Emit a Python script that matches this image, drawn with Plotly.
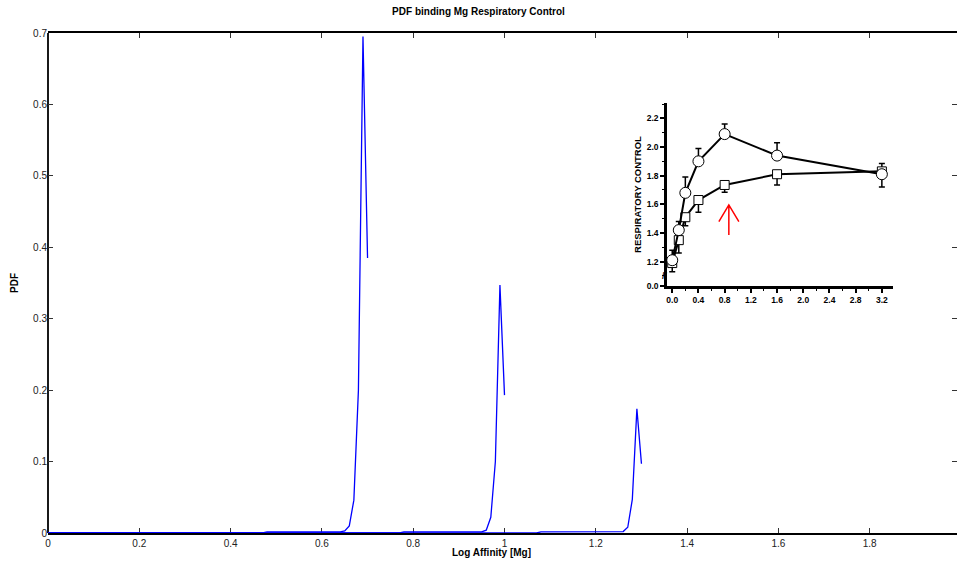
import plotly.graph_objects as go

# ---- main chart data (Log Affinity vs PDF) ----
c1_x = [0, 0.47, 0.48, 0.64, 0.65, 0.66, 0.67, 0.68, 0.69, 0.70]
c1_y = [0, 0, 0.0015, 0.0015, 0.003, 0.01, 0.046, 0.20, 0.695, 0.385]
c2_x = [0, 0.77, 0.78, 0.95, 0.96, 0.97, 0.98, 0.99, 1.00]
c2_y = [0, 0, 0.0015, 0.0015, 0.004, 0.022, 0.10, 0.347, 0.193]
c3_x = [0, 1.07, 1.08, 1.25, 1.26, 1.27, 1.28, 1.29, 1.30]
c3_y = [0, 0, 0.0015, 0.0015, 0.002, 0.008, 0.047, 0.174, 0.097]

x_ticks = [0, 0.2, 0.4, 0.6, 0.8, 1.0, 1.2, 1.4, 1.6, 1.8]
x_ticklabels = ["0", "0.2", "0.4", "0.6", "0.8", "1", "1.2", "1.4", "1.6", "1.8"]
y_ticks = [0, 0.1, 0.2, 0.3, 0.4, 0.5, 0.6, 0.7]
y_ticklabels = ["0", "0.1", "0.2", "0.3", "0.4", "0.5", "0.6", "0.7"]

# ---- inset data (Respiratory control vs concentration) ----
conc = [0.0, 0.1, 0.2, 0.4, 0.8, 1.6, 3.2]
circle_rc = [1.21, 1.42, 1.68, 1.90, 2.09, 1.94, 1.81]
circle_err_up = [0.07, 0.06, 0.11, 0.09, 0.07, 0.09, 0.0]
circle_err_down = [0.0, 0.0, 0.0, 0.0, 0.0, 0.0, 0.09]
square_rc = [1.19, 1.35, 1.51, 1.63, 1.735, 1.81, 1.83]
square_err_up = [0.0, 0.0, 0.0, 0.0, 0.0, 0.0, 0.055]
square_err_down = [0.06, 0.09, 0.06, 0.085, 0.05, 0.075, 0.0]

inset_x_ticks = [0.0, 0.4, 0.8, 1.2, 1.6, 2.0, 2.4, 2.8, 3.2]
inset_x_ticklabels = ["0.0", "0.4", "0.8", "1.2", "1.6", "2.0", "2.4", "2.8", "3.2"]
inset_y_ticks = [1.031, 1.2, 1.4, 1.6, 1.8, 2.0, 2.2]
inset_y_ticklabels = ["0.0", "1.2", "1.4", "1.6", "1.8", "2.0", "2.2"]

FONT = "Liberation Sans, Arial, sans-serif"
BLUE = "#0000ff"

fig = go.Figure()
for xs, ys in [(c1_x, c1_y), (c2_x, c2_y), (c3_x, c3_y)]:
    fig.add_trace(go.Scatter(x=xs, y=ys, mode="lines",
                             line=dict(color=BLUE, width=1.3),
                             showlegend=False, hoverinfo="skip"))

# inset traces
fig.add_trace(go.Scatter(
    x=conc, y=square_rc, xaxis="x2", yaxis="y2", mode="lines+markers",
    line=dict(color="black", width=2),
    marker=dict(symbol="square", size=9, color="white", line=dict(color="black", width=1)),
    error_y=dict(type="data", symmetric=False, array=square_err_up,
                 arrayminus=square_err_down, color="black", thickness=1.5, width=3),
    showlegend=False, hoverinfo="skip"))
fig.add_trace(go.Scatter(
    x=conc, y=circle_rc, xaxis="x2", yaxis="y2", mode="lines+markers",
    line=dict(color="black", width=2),
    marker=dict(symbol="circle", size=11, color="white", line=dict(color="black", width=1)),
    error_y=dict(type="data", symmetric=False, array=circle_err_up,
                 arrayminus=circle_err_down, color="black", thickness=1.5, width=3),
    showlegend=False, hoverinfo="skip"))

W, H = 957, 561
L, R, T, B = 48, 0, 33, 28
pw = W - L - R
ph = H - T - B

def px_x(p):
    return (p - L) / pw

def px_y(p):
    return (H - B - p) / ph

fig.update_layout(
    width=W, height=H,
    margin=dict(l=L, r=R, t=T, b=B),
    paper_bgcolor="white", plot_bgcolor="white",
    font=dict(family=FONT, size=10, color="black"),
    title=dict(text="PDF binding Mg Respiratory Control", x=0.5, xanchor="center",
               xref="container", y=1 - 11 / H, yanchor="middle", yref="container",
               font=dict(family=FONT, size=10, weight="bold", color="black")),
    xaxis=dict(range=[0, (W - L - R) / 456.5], tickmode="array", tickvals=x_ticks,
               ticktext=x_ticklabels, ticks="inside", ticklen=5, tickwidth=1,
               tickcolor="#333", showline=True, linecolor="black", linewidth=1.5,
               mirror="ticks", showgrid=False, zeroline=False, layer="below traces",
               tickfont=dict(family=FONT, size=10, color="#222")),
    yaxis=dict(range=[0, 0.7], tickmode="array", tickvals=y_ticks, ticktext=y_ticklabels,
               ticks="inside", ticklen=5, tickwidth=1, tickcolor="#333",
               showline=False, mirror="ticks",
               showgrid=False, zeroline=False, layer="below traces",
               tickfont=dict(family=FONT, size=10, color="#222")),
    xaxis2=dict(domain=[px_x(667), px_x(893)], anchor="y2", range=[-0.08, 3.37],
                tickmode="array", tickvals=inset_x_ticks, ticktext=inset_x_ticklabels,
                ticks="outside", ticklen=4, tickwidth=1.5, tickcolor="black",
                minor=dict(tickmode="array", tickvals=[0.2, 0.6, 1.0, 1.4, 1.8, 2.2, 2.6, 3.0],
                           ticks="outside", ticklen=2.5, tickwidth=1.2, tickcolor="black"),
                showline=True, linecolor="black", linewidth=2.5, showgrid=False,
                zeroline=False,
                tickfont=dict(family=FONT, size=8.5, weight="bold", color="black")),
    yaxis2=dict(domain=[px_y(286), px_y(103)], anchor="x2", range=[1.03, 2.307],
                tickmode="array", tickvals=inset_y_ticks, ticktext=inset_y_ticklabels,
                ticks="outside", ticklen=4, tickwidth=1.5, tickcolor="black",
                minor=dict(tickmode="array", tickvals=[1.1, 1.3, 1.5, 1.7, 1.9, 2.1, 2.3],
                           ticks="outside", ticklen=2.5, tickwidth=1.2, tickcolor="black"),
                showline=True, linecolor="black", linewidth=2.5, showgrid=False,
                zeroline=False,
                title=dict(text="RESPIRATORY CONTROL", standoff=4,
                           font=dict(family=FONT, size=9.5, weight="bold", color="black")),
                tickfont=dict(family=FONT, size=8.5, weight="bold", color="black")),
    annotations=[
        dict(text="Log Affinity [Mg]", xref="paper", yref="paper",
             x=px_x(491), y=px_y(552), xanchor="center", yanchor="middle",
             showarrow=False, font=dict(family=FONT, size=10, weight="bold")),
        dict(text="PDF", xref="paper", yref="paper", x=px_x(14), y=px_y(283),
             xanchor="center", yanchor="middle", textangle=-90, showarrow=False,
             font=dict(family=FONT, size=10, weight="bold")),
        dict(text="//", xref="paper", yref="paper", x=px_x(665), y=px_y(276),
             xanchor="center", yanchor="middle", showarrow=False,
             font=dict(family=FONT, size=9, weight="bold")),
    ],
    shapes=[
        # left spine of the main axes (no right spine, as in the reference)
        dict(type="line", xref="paper", yref="paper", x0=0, x1=0, y0=0, y1=1,
             line=dict(color="black", width=1.8), layer="below"),
        dict(type="path", xref="x2", yref="y2",
             path="M 0.864 1.386 L 0.864 1.596 M 0.712 1.479 L 0.864 1.596 L 1.017 1.479",
             line=dict(color="red", width=1.5)),
    ],
)

fig.write_html(
    "out.html",
    config={"displayModeBar": False},
    post_script=("document.body.style.margin='0';document.body.style.padding='0';"
                 "document.body.style.overflow='hidden';"
                 "document.documentElement.style.overflow='hidden';"),
)
